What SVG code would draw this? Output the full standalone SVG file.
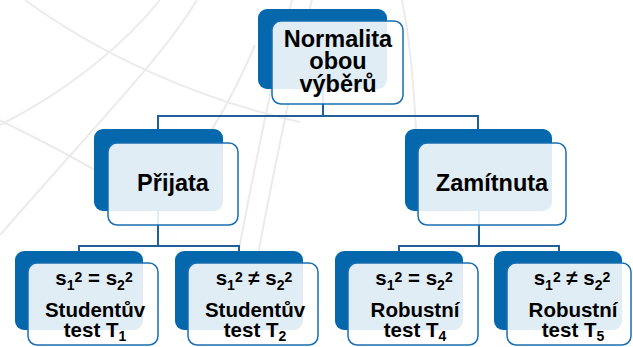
<svg xmlns="http://www.w3.org/2000/svg" width="633" height="347" viewBox="0 0 633 347">
<style>
.bg{fill:none;stroke:#ebebeb;stroke-width:2}
.dark{fill:#0568ad}
.light{fill:#ffffff;fill-opacity:0.88;stroke:#1a6db0;stroke-width:1.5}
.conn{fill:none;stroke:#1f5f9a;stroke-width:2}
.t{font-family:"Liberation Sans",Arial,sans-serif;font-weight:bold;fill:#000;text-anchor:middle}
.big{font-size:23.5px}
.mid{font-size:20.5px}
.s{font-size:14px}
</style>
<rect width="633" height="347" fill="#ffffff"/>
<g id="background">
<path class="bg" d="M25 0 C100 55 200 100 300 122"/>
<path class="bg" d="M-5 118 C40 140 80 160 125 188"/>
<path class="bg" d="M160 0 C120 50 60 95 0 125"/>
<path class="bg" d="M197 0 C160 60 100 120 0 235"/>
<path class="bg" d="M255 45 C240 80 225 110 205 140"/>
<path class="bg" d="M292 0 C272 80 252 180 237 260"/>
<path class="bg" d="M312 0 C292 80 272 180 257 260"/>
<path class="bg" d="M402 0 C410 40 414 90 416 130"/>
</g>
<g id="connectors">
<path class="conn" d="M323 89 V116"/>
<path class="conn" d="M158 129 V116 H478 V129"/>
<path class="conn" d="M158 211 V246"/>
<path class="conn" d="M79 251 V246 H239 V251"/>
<path class="conn" d="M479 211 V246"/>
<path class="conn" d="M399 251 V246 H559 V251"/>
</g>
<g id="node-root">
<rect class="dark" x="258" y="9" width="129" height="80" rx="9"/>
<rect class="light" x="272" y="21" width="131" height="83" rx="9"/>
<text class="t big" x="338" y="47">Normalita</text>
<text class="t big" x="338" y="69">obou</text>
<text class="t big" x="338" y="92">výběrů</text>
</g>
<g id="node-prijata">
<rect class="dark" x="94" y="129" width="129" height="82" rx="9"/>
<rect class="light" x="108" y="143" width="130" height="82" rx="9"/>
<text class="t big" x="173" y="191">Přijata</text>
</g>
<g id="node-zamitnuta">
<rect class="dark" x="405" y="129" width="147" height="82" rx="9"/>
<rect class="light" x="418" y="143" width="148" height="82" rx="9"/>
<text class="t big" x="492" y="191">Zamítnuta</text>
</g>
<g id="node-t1">
<rect class="dark" x="15" y="251" width="128" height="79" rx="9"/>
<rect class="light" x="28" y="263" width="130" height="82" rx="9"/>
<text class="t mid" x="94" y="285">s<tspan class="s" dy="5">1</tspan><tspan class="s" dy="-8">2</tspan><tspan dy="3"> = s</tspan><tspan class="s" dy="5">2</tspan><tspan class="s" dy="-8">2</tspan></text>
<text class="t mid" x="95" y="317">Studentův</text>
<text class="t mid" x="95" y="337">test T<tspan class="s" dy="4">1</tspan></text>
</g>
<g id="node-t2">
<rect class="dark" x="175" y="251" width="128" height="79" rx="9"/>
<rect class="light" x="188" y="263" width="130" height="82" rx="9"/>
<text class="t mid" x="254" y="285">s<tspan class="s" dy="5">1</tspan><tspan class="s" dy="-8">2</tspan><tspan dy="3"> ≠ s</tspan><tspan class="s" dy="5">2</tspan><tspan class="s" dy="-8">2</tspan></text>
<text class="t mid" x="255" y="317">Studentův</text>
<text class="t mid" x="255" y="337">test T<tspan class="s" dy="4">2</tspan></text>
</g>
<g id="node-t4">
<rect class="dark" x="335" y="251" width="128" height="79" rx="9"/>
<rect class="light" x="348" y="263" width="130" height="82" rx="9"/>
<text class="t mid" x="414" y="285">s<tspan class="s" dy="5">1</tspan><tspan class="s" dy="-8">2</tspan><tspan dy="3"> = s</tspan><tspan class="s" dy="5">2</tspan><tspan class="s" dy="-8">2</tspan></text>
<text class="t mid" x="415" y="317">Robustní</text>
<text class="t mid" x="415" y="337">test T<tspan class="s" dy="4">4</tspan></text>
</g>
<g id="node-t5">
<rect class="dark" x="494" y="251" width="128" height="79" rx="9"/>
<rect class="light" x="507" y="263" width="124" height="82" rx="9"/>
<text class="t mid" x="572" y="285">s<tspan class="s" dy="5">1</tspan><tspan class="s" dy="-8">2</tspan><tspan dy="3"> ≠ s</tspan><tspan class="s" dy="5">2</tspan><tspan class="s" dy="-8">2</tspan></text>
<text class="t mid" x="573" y="317">Robustní</text>
<text class="t mid" x="573" y="337">test T<tspan class="s" dy="4">5</tspan></text>
</g>
</svg>
